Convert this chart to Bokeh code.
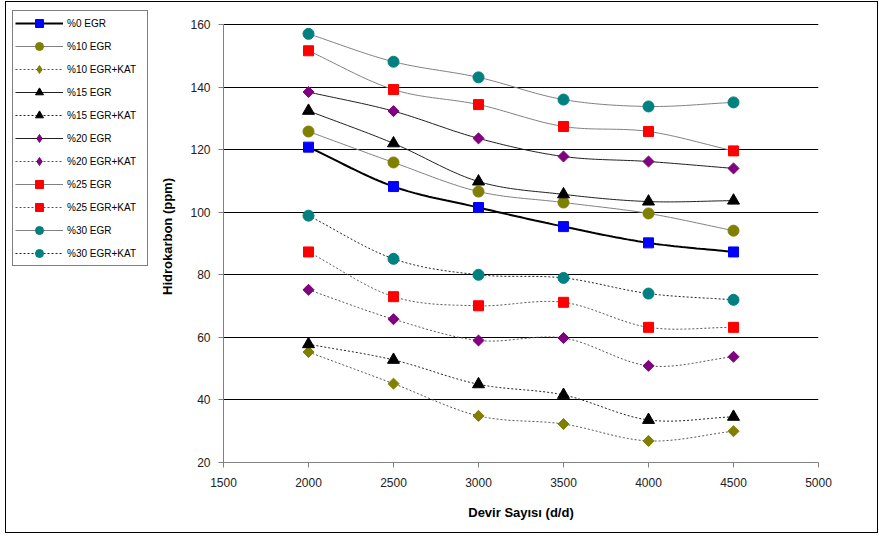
from bokeh.plotting import figure
from bokeh.models import Legend, LegendItem, FixedTicker
from bokeh.layouts import row
from bokeh.embed import file_html
from bokeh.resources import INLINE
import numpy as np

rpm = [2000, 2500, 3000, 3500, 4000, 4500]

egr0 = [120.8, 108.2, 101.5, 95.4, 90.2, 87.3]
egr10 = [125.8, 115.9, 106.6, 103.1, 99.6, 94.1]
egr10_kat = [55.3, 45.2, 34.9, 32.3, 26.9, 30.0]
egr15 = [132.4, 122.0, 109.8, 105.7, 103.4, 103.7]
egr15_kat = [57.8, 52.8, 45.0, 41.6, 33.6, 34.6]
egr20 = [138.4, 132.3, 123.6, 117.8, 116.2, 114.0]
egr20_kat = [75.2, 65.8, 59.0, 59.8, 50.9, 53.8]
egr25 = [151.6, 139.2, 134.4, 127.4, 125.8, 119.6]
egr25_kat = [87.3, 73.0, 70.1, 71.2, 63.2, 63.2]
egr30 = [157.0, 148.1, 143.1, 136.0, 133.8, 135.1]
egr30_kat = [98.9, 85.1, 80.0, 79.0, 74.0, 72.0]

y_ticks = [20, 40, 60, 80, 100, 120, 140, 160]
x_ticks = [1500, 2000, 2500, 3000, 3500, 4000, 4500, 5000]


def smooth(xs, ys, n=24):
    # Catmull-Rom rendering of the line through the data points
    x = np.asarray(xs, float)
    y = np.asarray(ys, float)
    px = np.concatenate([[2 * x[0] - x[1]], x, [2 * x[-1] - x[-2]]])
    py = np.concatenate([[2 * y[0] - y[1]], y, [2 * y[-1] - y[-2]]])
    ox, oy = [], []
    for i in range(1, len(px) - 2):
        t = np.linspace(0, 1, n, endpoint=(i == len(px) - 3))
        t2, t3 = t * t, t * t * t
        for arr, out in ((px, ox), (py, oy)):
            p0, p1, p2, p3 = arr[i - 1], arr[i], arr[i + 1], arr[i + 2]
            out.extend(0.5 * (2 * p1 + (-p0 + p2) * t + (2 * p0 - 5 * p1 + 4 * p2 - p3) * t2
                              + (-p0 + 3 * p1 - 3 * p2 + p3) * t3))
    return ox, oy


# frame starts a bit above the 160 line so the (frame-aligned) legend panel can reach higher
p = figure(width=721, height=530, x_range=(1500, 5000), y_range=(20, 164.47),
           output_backend="svg", toolbar_location=None, title_location=None,
           min_border_left=67, min_border_right=59, min_border_top=8, min_border_bottom=70)
p.outline_line_color = None
p.background_fill_color = "white"

p.xgrid.visible = False
p.ygrid.grid_line_color = "#000000"
p.ygrid.grid_line_width = 1
p.ygrid.ticker = FixedTicker(ticks=y_ticks)
p.yaxis.ticker = FixedTicker(ticks=y_ticks)
p.xaxis.ticker = FixedTicker(ticks=x_ticks)
p.yaxis.bounds = (20, 160)

for ax in (p.xaxis[0], p.yaxis[0]):
    ax.axis_line_color = "#808080"
    ax.major_tick_line_color = "#808080"
    ax.major_tick_in = 0
    ax.major_tick_out = 5
    ax.minor_tick_line_color = None
    ax.major_label_text_font = "Liberation Sans"
    ax.major_label_text_font_size = "12px"
    ax.major_label_text_color = "#222222"
    ax.axis_label_text_font = "Liberation Sans"
    ax.axis_label_text_font_size = "13px"
    ax.axis_label_text_font_style = "bold"
    ax.axis_label_text_color = "#000000"
p.xaxis.axis_label = "Devir Sayısı (d/d)"
p.yaxis.axis_label = "Hidrokarbon (ppm)"
p.xaxis.axis_label_standoff = 15
p.yaxis.axis_label_standoff = 12
p.xaxis.major_label_standoff = 10
p.yaxis.major_label_standoff = 8

# separate panel holding the legend box, to the left of the y-axis title
lg = figure(width=150, height=530, x_range=(0, 1), y_range=(0, 1),
            output_backend="svg", toolbar_location=None, title_location=None,
            x_axis_type=None, y_axis_type=None,
            min_border_left=6, min_border_right=0, min_border_top=0, min_border_bottom=0)
lg.outline_line_color = None
lg.grid.visible = False

D = np.pi / 4
series = [
    ("%0 EGR", egr0, "#000000", 2, "solid", "square", "#0000FF", 10),
    ("%10 EGR", egr10, "#808080", 1, "solid", "circle", "#808000", 11),
    ("%10 EGR+KAT", egr10_kat, "#555555", 1, "2 2", "diamond", "#808000", 11),
    ("%15 EGR", egr15, "#202020", 1, "solid", "triangle", "#000000", 12),
    ("%15 EGR+KAT", egr15_kat, "#202020", 1, "2 2", "triangle", "#000000", 12),
    ("%20 EGR", egr20, "#202020", 1, "solid", "diamond", "#800080", 11),
    ("%20 EGR+KAT", egr20_kat, "#555555", 1, "2 2", "diamond", "#800080", 11),
    ("%25 EGR", egr25, "#808080", 1, "solid", "square", "#FF0000", 10),
    ("%25 EGR+KAT", egr25_kat, "#555555", 1, "2 2", "square", "#FF0000", 10),
    ("%30 EGR", egr30, "#808080", 1, "solid", "circle", "#008080", 11),
    ("%30 EGR+KAT", egr30_kat, "#202020", 1, "2 2", "circle", "#008080", 11),
]

items = []
for name, vals, lc, lw, dash, mk, mc, ms in series:
    sx, sy = smooth(rpm, vals)
    p.line(sx, sy, line_color=lc, line_width=lw, line_dash=dash)
    if mk == "diamond":
        # a square turned 45 degrees gives the equal-sided diamond of the original
        p.scatter(rpm, vals, marker="square", angle=D, size=ms / 1.41, fill_color=mc, line_color=mc)
        lmk, lms = "diamond", ms + 2
    else:
        p.scatter(rpm, vals, marker=mk, size=ms, fill_color=mc, line_color=mc)
        lmk, lms = mk, ms - 1
    # legend-panel copies (their data lie outside that panel's ranges)
    l1 = lg.line(rpm, vals, line_color=lc, line_width=lw, line_dash=dash)
    l2 = lg.scatter(rpm, vals, marker=lmk, size=lms, fill_color=mc, line_color=mc)
    items.append(LegendItem(label=name, renderers=[l1, l2]))

legend = Legend(items=items, location="top_left")
legend.border_line_color = "#000000"
legend.border_line_width = 1
legend.background_fill_alpha = 1
legend.padding = 2
legend.margin = 0
legend.spacing = 3
legend.glyph_height = 20
legend.glyph_width = 48
legend.label_height = 20
legend.label_width = 78
legend.label_standoff = 4
legend.label_text_font = "Liberation Sans"
legend.label_text_font_size = "10px"
legend.label_text_color = "#000000"
lg.add_layout(legend, "center")

layout = row(lg, p, spacing=0)
layout.styles = {"border": "1px solid #000000", "margin-left": "5px", "margin-top": "1px"}

open("out.html", "w").write(file_html(layout, INLINE))
